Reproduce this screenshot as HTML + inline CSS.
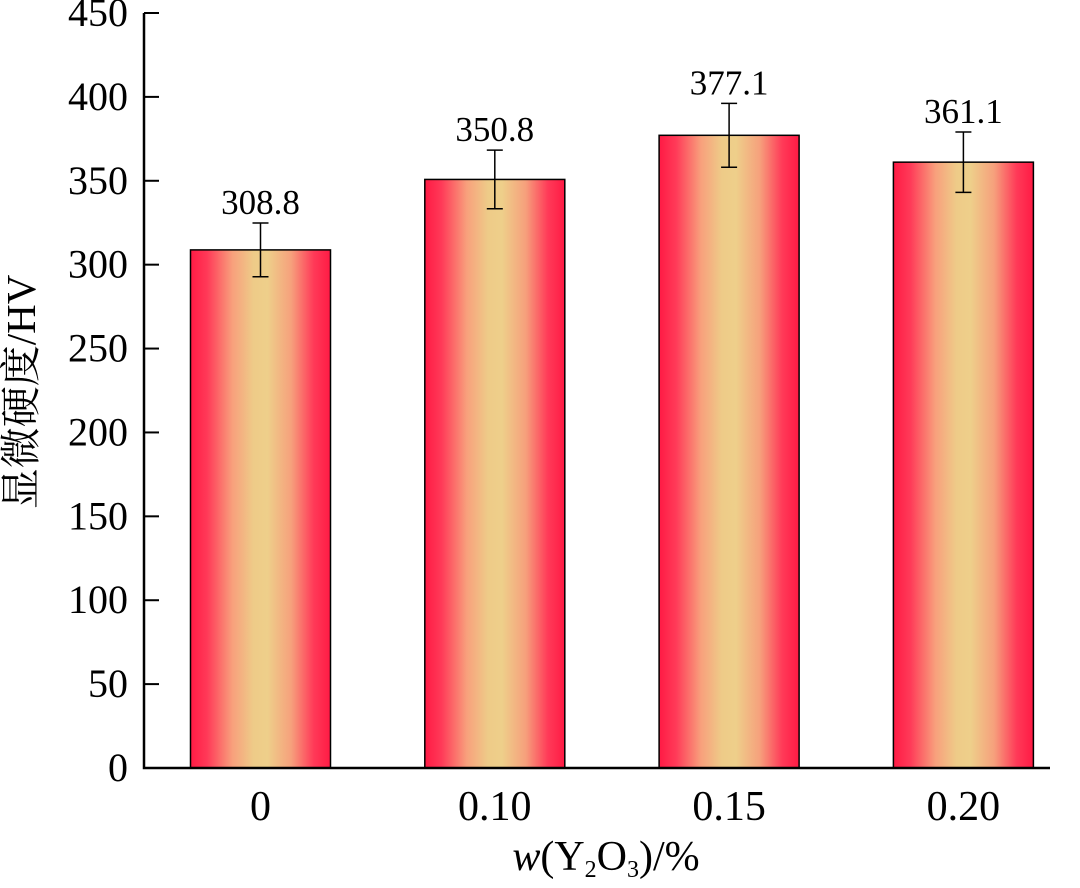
<!DOCTYPE html>
<html><head><meta charset="utf-8"><style>
body{margin:0;background:#fff;}
svg text{font-family:"Liberation Serif","Noto Serif CJK SC",serif;fill:#000;}
</style></head><body>
<svg width="1080" height="883">
<defs>
<linearGradient id="g" x1="0" x2="1" y1="0" y2="0">
<stop offset="0" stop-color="#ff1a44"/><stop offset="0.12" stop-color="#ff3a58"/>
<stop offset="0.3" stop-color="#f8a07c"/><stop offset="0.45" stop-color="#eecb88"/>
<stop offset="0.55" stop-color="#eecf8a"/><stop offset="0.72" stop-color="#f6a07c"/>
<stop offset="0.88" stop-color="#ff3a58"/><stop offset="1" stop-color="#ff1a44"/>
</linearGradient>
</defs>
<g id="plot"></g>
</svg>
<script>
const categories=["0","0.10","0.15","0.20"];
const values=[308.8,350.8,377.1,361.1];
const errors=[16,17.5,19,18];
const valueLabels=["308.8","350.8","377.1","361.1"];
const yTicks=[0,50,100,150,200,250,300,350,400,450];
const NS="http://www.w3.org/2000/svg";
const g=document.getElementById('plot');
const x0=144,x1=1050,yBase=768,yTop=13,yMax=450;
const y=v=>yBase-(v/yMax)*(yBase-yTop);
const step=234.3,first=260.5,bw=140;
const xc=i=>first+i*step;
function mk(t,a){const e=document.createElementNS(NS,t);for(const k in a)e.setAttribute(k,a[k]);g.appendChild(e);return e;}
values.forEach((v,i)=>{
 const r=mk('rect',{x:xc(i)-bw/2,y:y(v),width:bw,height:yBase-y(v),fill:'url(#g)',stroke:'#000','stroke-width':1.5});
 
 
 const e=errors[i];
 const p=mk('path',{d:`M${xc(i)} ${y(v+e)}V${y(v-e)}M${xc(i)-8} ${y(v+e)}h16M${xc(i)-8} ${y(v-e)}h16`,stroke:'#000','stroke-width':1.5,fill:'none'});
 
 
 const t=mk('text',{x:xc(i),y:y(v+e)-9,'text-anchor':'middle','font-size':35});
 t.textContent=valueLabels[i];
 
 
 const c=mk('text',{x:xc(i),y:820,'text-anchor':'middle','font-size':42});
 c.textContent=categories[i];
 
 
});
yTicks.forEach(v=>{
 const l=mk('line',{x1:x0,x2:x0+15,y1:y(v),y2:y(v),stroke:'#000','stroke-width':2});
 
 
 const t=mk('text',{x:128,y:y(v)+13,'text-anchor':'end','font-size':40});
 t.textContent=v;
 
 
});
const ax=mk('path',{d:`M${x0} ${yTop}V${yBase}H${x1}`,stroke:'#000','stroke-width':2.5,fill:'none'});


const xt=mk('text',{x:606,y:870,'text-anchor':'middle','font-size':42});
xt.innerHTML='<tspan font-style="italic">w</tspan>(Y<tspan font-size="24" dy="7">2</tspan><tspan dy="-7">O</tspan><tspan font-size="24" dy="7">3</tspan><tspan dy="-7">)/%</tspan>';


const yt=mk('text',{x:0,y:0,'text-anchor':'middle','font-size':41,transform:'translate(35 392) rotate(-90)'});
yt.textContent='显微硬度/HV';


</script>
</body></html>
